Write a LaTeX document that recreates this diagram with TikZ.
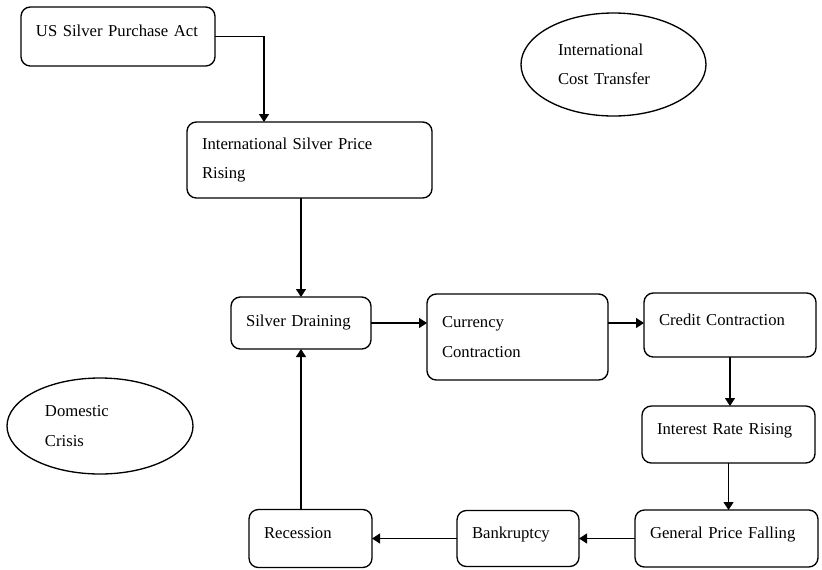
\documentclass[tikz,border=0pt]{standalone}
\usepackage{fontspec}
\setmainfont{Liberation Serif}
\usepackage{tikz}
\usetikzlibrary{shapes, arrows.meta, positioning}
\tikzstyle{arrow} = [line width=1pt, -{Triangle[length=6pt, width=7.5pt]}]

\begin{document}
\begin{tikzpicture}[
    box/.style={draw=black, rectangle, rounded corners=7pt, line width=1pt, outer sep=0pt, align=left, inner xsep=11.25pt, inner ysep=0pt, font=\fontsize{12.5}{22}\selectfont},
    oneline/.style={text height=9pt, text depth=9pt},
    blob/.style={draw=black, ellipse, line width=1pt, outer sep=0pt, align=left, inner sep=0pt, font=\fontsize{12.5}{22}\selectfont}
]
\useasboundingbox (0,0) rectangle (616.5pt,-426.75pt);

% Top
\node[box, oneline, text width=123pt, minimum height=44.25pt] (uspa) at (88.5pt,-27.375pt) {US Silver Purchase Act};
\node[box, text width=161.25pt, minimum height=57pt, below right=42pt and -21pt of uspa] (ispr) {International Silver Price\\Rising};

% Middle row
\node[box, text width=82.5pt, minimum height=39pt, below=74.25pt of ispr, xshift=-6.375pt] (sd) {Silver Draining};
\node[box, text width=113.25pt, minimum height=64.5pt, below right=-2.25pt and 42pt of sd.north east] (cc) {Currency\\Contraction};
\node[box, oneline, text width=106.5pt, minimum height=48pt, below right=-0.75pt and 27pt of cc.north east] (crc) {Credit Contraction};

% Right column and bottom row
\node[box, oneline, text width=107.25pt, minimum height=42.75pt, below=36.75pt of crc, xshift=-1.1pt] (irr) {Interest Rate Rising};
\node[box, oneline, text width=114.75pt, minimum height=42.75pt, below=35.25pt of irr, xshift=-1.5pt] (gpf) {General Price Falling};
\node[box, oneline, text width=69pt, minimum height=42pt, left=42pt of gpf] (bk) {Bankruptcy};
\node[box, oneline, text width=69.75pt, minimum height=43.5pt, left=63.75pt of bk] (rec) {Recession};

% Ellipses
\node[blob, text width=83.25pt, minimum width=138.75pt, minimum height=77.25pt] (ict) at (460.125pt,-48.375pt) {International\\Cost Transfer};
\node[blob, text width=82.5pt, minimum width=139.5pt, minimum height=72pt] (dom) at (75pt,-319.5pt) {Domestic\\Crisis};

% Draw lines
\draw[arrow] (uspa.east) -| ([xshift=-34.125pt]ispr.north);
\draw[arrow] (ispr.south -| sd.north) -- (sd.north);
\draw[arrow] (sd.east) -- (sd.east -| cc.west);
\draw[arrow] (sd.east -| cc.east) -- (sd.east -| crc.west);
\draw[arrow] (crc.south) -- (crc.south |- irr.north);
\draw[arrow] (irr.south) -- (irr.south |- gpf.north);
\draw[arrow] (gpf.west) -- (gpf.west -| bk.east);
\draw[arrow] (bk.west) -- (bk.west -| rec.east);
\draw[arrow] (rec.north -| sd.south) -- (sd.south);
\end{tikzpicture}
\end{document}
